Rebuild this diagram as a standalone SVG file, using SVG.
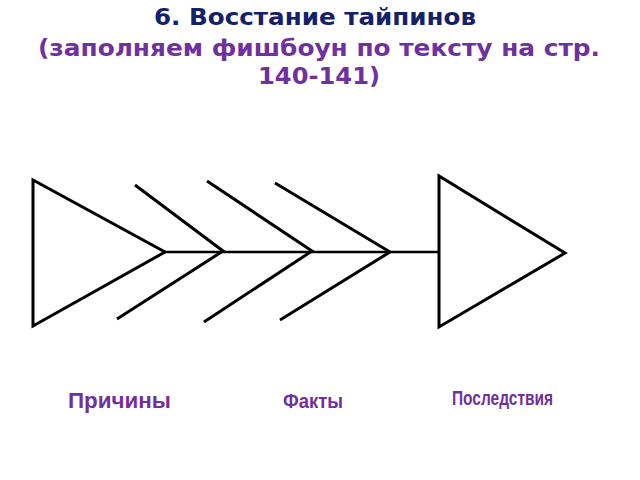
<svg xmlns="http://www.w3.org/2000/svg" width="640" height="480" viewBox="0 0 640 480">
<style>
.ln{fill:none;stroke:#000;stroke-width:3;stroke-linecap:butt;stroke-linejoin:miter}
.sp{fill:none;stroke:#000;stroke-width:2.5}
.t1{font-family:"DejaVu Sans",sans-serif;font-weight:bold;font-size:23px;fill:#12216a;text-anchor:middle}
.t2{font-family:"DejaVu Sans",sans-serif;font-weight:bold;font-size:23px;fill:#7030a0;text-anchor:middle}
.lb{font-family:"Liberation Sans",sans-serif;font-weight:bold;fill:#7030a0}
</style>
<rect width="640" height="480" fill="#fff"/>
<g id="title">
<text class="t1" x="315" y="25" textLength="322" lengthAdjust="spacingAndGlyphs">6. Восстание тайпинов</text>
<text class="t2" x="319" y="56" textLength="562" lengthAdjust="spacingAndGlyphs">(заполняем фишбоун по тексту на стр.</text>
<text class="t2" x="319" y="84" textLength="122" lengthAdjust="spacingAndGlyphs">140-141)</text>
</g>
<g id="connectors">
<line class="sp" x1="165" y1="252" x2="439" y2="252"/>
<polyline class="ln" points="135,185 223,251 117,319"/>
<polyline class="ln" points="207,181 312,251 204,322"/>
<polyline class="ln" points="275,183 390,252 280,320"/>
</g>
<g id="tail">
<polygon class="ln" points="33,180 33,326 165,252"/>
</g>
<g id="head">
<polygon class="ln" points="439,176 439,327 565,253"/>
</g>
<g id="label-causes">
<text class="lb" x="68" y="408" font-size="22" textLength="103" lengthAdjust="spacingAndGlyphs">Причины</text>
</g>
<g id="label-facts">
<text class="lb" x="283" y="408" font-size="20" textLength="60" lengthAdjust="spacingAndGlyphs">Факты</text>
</g>
<g id="label-consequences">
<text class="lb" x="452" y="405" font-size="21" textLength="101" lengthAdjust="spacingAndGlyphs">Последствия</text>
</g>
</svg>
